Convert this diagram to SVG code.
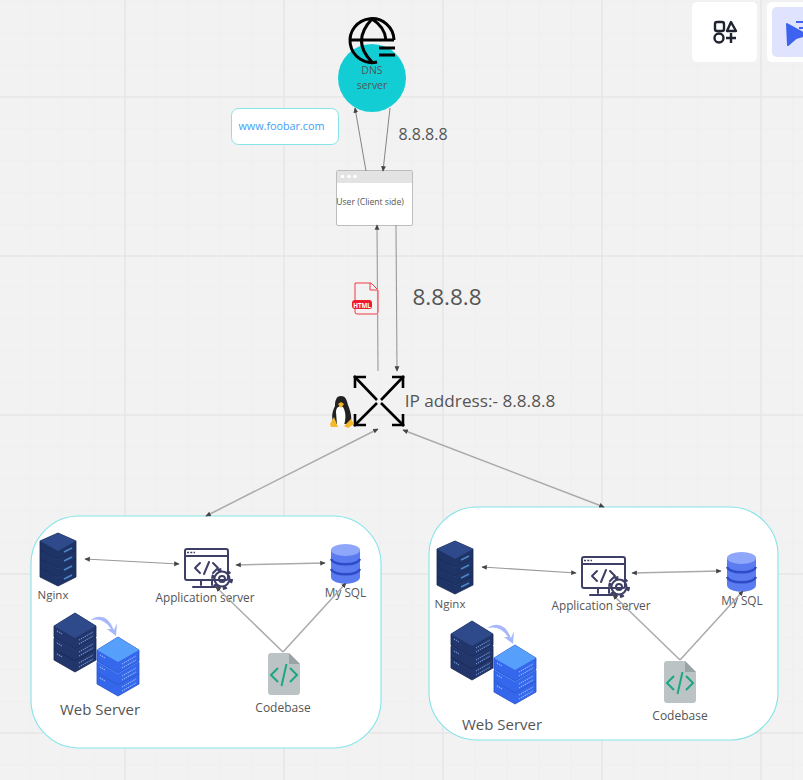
<svg xmlns="http://www.w3.org/2000/svg" width="803" height="780" viewBox="0 0 803 780">
<style>
text{font-family:"Open Sans","Liberation Sans",sans-serif;fill:#555;text-anchor:middle}
.minor{stroke:#efefef;stroke-width:1;fill:none}
.major{stroke:#e6e6e6;stroke-width:1.400;fill:none}
.box{fill:#fff;stroke:#86e4e8;stroke-width:1.100}
.c{stroke:#999;stroke-width:1.100;fill:none}
.cd{stroke:#777;stroke-width:.9;fill:none}
.c2{stroke:#aaa;stroke-width:1.500;fill:none}
.ic{fill:none;stroke:#3d3f66;stroke-width:2;stroke-linejoin:round;stroke-linecap:round}
.k{fill:none;stroke:#000;stroke-width:2.600}
</style>
<defs>
<marker id="a" viewBox="0 0 8 8" refX="7" refY="4" markerWidth="5.500" markerHeight="5.500" orient="auto-start-reverse" markerUnits="userSpaceOnUse"><path d="M0 0.500L8 4L0 7.500Z" fill="#444"/></marker>
<g id="srv">
<path d="M0 13L21 0L42 13V24L21 36L0 24Z" fill="#22366b" stroke="#17264e" stroke-width=".8"/>
<path d="M0 13L21 0L42 13L21 25Z" fill="#2f4a8a"/>
<path d="M3 18L8 21M25 27L39 19M25 31L39 23" stroke="#6d93d6" stroke-width="1.200" stroke-dasharray="1.200 1" fill="none"/>
</g>
<g id="blu">
<path d="M0 13L21 0L42 13V24L21 36L0 24Z" fill="#3567ec" stroke="#2a50c8" stroke-width=".8"/>
<path d="M0 13L21 0L42 13L21 25Z" fill="#56a0fc"/>
<path d="M3 18L8 21M25 27L39 19M25 31L39 23" stroke="#8fb7fb" stroke-width="1.200" stroke-dasharray="1.200 1" fill="none"/>
</g>
<g id="nl">
<path d="M0 8L18 0L36 8V17L18 26L0 17Z" fill="#1f3466" stroke="#17264e" stroke-width=".8"/>
<path d="M0 8L18 0L36 8L18 18Z" fill="#2f4a8a"/>
<path d="M24 19L32 15" stroke="#4f86c9" stroke-width="1.500"/>
</g>
<g id="nginx"><use href="#nl" y="27"/><use href="#nl" y="18"/><use href="#nl" y="9"/><use href="#nl"/></g>
<g id="appicon">
<rect x="1" y="1" width="43" height="31" rx="2" class="ic"/>
<path d="M1 8H44M17 32V37M28 32V37M9 39H36" class="ic"/>
<path d="M3 4.500H11" stroke="#3d3f66" stroke-width="1.500" stroke-dasharray="2 1.300"/>
<path d="M16 15L11 20L16 25M29 15L34 20L29 25M25 14L20 26" class="ic"/>
<circle cx="38" cy="31" r="9.500" fill="none" stroke="#3d3f66" stroke-width="3" stroke-dasharray="4 5.950"/>
<circle cx="38" cy="31" r="7.500" fill="#fff" class="ic"/>
<circle cx="38" cy="31" r="3" fill="#fff" class="ic"/>
</g>
<g id="db">
<path d="M0 8C0 0 29 0 29 8V34C29 43 0 43 0 34Z" fill="#5b7cf0"/>
<ellipse cx="14.500" cy="7" rx="14.500" ry="6" fill="#8ea7fb"/>
<path d="M0 16C3 23 26 23 29 16M0 26C3 33 26 33 29 26" stroke="#2e4bc8" stroke-width="2.500" fill="none"/>
</g>
<g id="code">
<path d="M3 0H21L32 11V39Q32 42 29 42H3Q0 42 0 39V3Q0 0 3 0Z" fill="#bcc3c4"/>
<path d="M21 0L32 11H21Z" fill="#98a3a6"/>
<path d="M10 15L3 22L10 29M22 15L29 22L22 29M18.500 11L13.500 33" stroke="#1ba783" stroke-width="2" fill="none"/>
</g>
<g id="web">
<use href="#srv" y="23"/><use href="#srv" y="12"/><use href="#srv"/>
<path d="M36 7Q52 -3 60 17L63 10L62 23L53 16L57 16Q50 4 36 7Z" fill="#a6b8fb"/>
<use href="#blu" x="43" y="47"/><use href="#blu" x="43" y="36"/><use href="#blu" x="43" y="24"/>
</g>
</defs>
<rect width="803" height="780" fill="#f2f2f2"/>
<g id="grid">
<path class="minor" d="M30 0V780M62 0V780M94 0V780M157 0V780M189 0V780M221 0V780M253 0V780M316 0V780M348 0V780M380 0V780M412 0V780M475 0V780M507 0V780M539 0V780M571 0V780M634 0V780M666 0V780M698 0V780M730 0V780M793 0V780"/>
<path class="minor" d="M0 2H803M0 34H803M0 66H803M0 129H803M0 161H803M0 193H803M0 225H803M0 288H803M0 320H803M0 352H803M0 384H803M0 447H803M0 479H803M0 511H803M0 543H803M0 606H803M0 638H803M0 670H803M0 702H803M0 765H803"/>
<path class="major" d="M125 0V780M284 0V780M443 0V780M602 0V780M761 0V780M0 97H803M0 256H803M0 415H803M0 574H803M0 733H803"/>
</g>
<g id="toolbar">
<rect x="692" y="2" width="65" height="60" rx="5" fill="#fff"/>
<rect x="767" y="2" width="40" height="60" rx="5" fill="#fff"/>
<rect x="772" y="7" width="36" height="50" rx="5" fill="#dfe3fd"/>
<rect x="715" y="22" width="9" height="9" rx="2" fill="none" stroke="#1f2330" stroke-width="2.400"/>
<path d="M731 22L736 31H727Z" fill="none" stroke="#1f2330" stroke-width="2.400" stroke-linejoin="round"/>
<circle cx="719" cy="38" r="4.500" fill="none" stroke="#1f2330" stroke-width="2.400"/>
<path d="M731 33V43M726 38H736" stroke="#1f2330" stroke-width="2.400"/>
<path d="M787 24L803 33V36L796 38L788 45Z" fill="#3d63f0" stroke="#3d63f0" stroke-width="2" stroke-linejoin="round"/>
<path d="M796 22H803M799 28H803" stroke="#3d63f0" stroke-width="2"/>
</g>
<g id="cluster-left-box"><rect class="box" x="31" y="516" width="350" height="232" rx="48"/></g>
<g id="cluster-right-box"><rect class="box" x="429" y="507" width="349" height="233" rx="48"/></g>
<g id="dns">
<circle cx="372" cy="78" r="34" fill="#12cdd4"/>
<path d="M394 40A22 22 0 1 0 377 62M350 40H394M372 19Q351 41 372 62M372 19Q385 27 386 40" fill="none" stroke="#000" stroke-width="3"/>
<path d="M379 48H395M379 55H395" stroke="#000" stroke-width="3"/>
<text x="372" y="74" font-size="10.500">DNS</text>
<text x="372" y="89" font-size="10.500">server</text>
</g>
<g id="foobar">
<rect x="231.500" y="108.500" width="107" height="36" rx="7" fill="#fff" stroke="#86e4e8"/>
<text x="281.500" y="130" font-size="10.800" style="fill:#3ea0f5">www.foobar.com</text>
</g>
<text id="dns-ip" x="423" y="140" font-size="16">8.8.8.8</text>
<g id="client">
<rect x="336.500" y="170.500" width="76" height="55" rx="1.500" fill="#fff" stroke="#bdbdbd"/>
<rect x="337" y="171" width="75" height="12" fill="#e3e3e3"/>
<circle cx="342.500" cy="176.500" r="1.800" fill="#fff"/><circle cx="349" cy="176.500" r="1.800" fill="#fff"/><circle cx="355" cy="176.500" r="1.800" fill="#fff"/>
<text x="370" y="205" font-size="8.600">User (Client side)</text>
</g>
<g id="html">
<path d="M355 283H371L378 290V312Q378 314 376 314H357Q355 314 355 312Z" fill="none" stroke="#f03a45" stroke-width="1"/>
<path d="M370 283V290H378" fill="none" stroke="#f03a45" stroke-width="1"/>
<rect x="352" y="300" width="20" height="9" rx="3" fill="#f01c2c"/>
<text x="362" y="307.500" font-size="6.200" font-weight="700" style="fill:#fff">HTML</text>
</g>
<text id="lb-ip" x="447" y="305" font-size="22.500">8.8.8.8</text>
<g id="lb">
<path class="k" d="M354 376L377 400M404 376L381 400M354 426L377 403M404 426L381 403"/>
<path class="k" d="M355 388V377H366M392 377H403V388M355 414V425H366M392 425H403V414"/>
<path d="M341 396C336 396 335 401 335 406C332 412 331 418 334 424H350C353 418 350 410 348 405C347 401 346 396 341 396Z" fill="#222"/>
<path d="M336 412C336 407 340 405 343 407C346 412 346 419 344 425H337Z" fill="#fff"/>
<path d="M338 404L341 402L344 404L341 408Z" fill="#f5b82a"/>
<path d="M330 424L334 417L338 427H331ZM344 426L351 419L354 424L348 428Z" fill="#f5b82a"/>
</g>
<text id="lb-label" x="480" y="407" font-size="17.200">IP address:- 8.8.8.8</text>
<g id="nginx-left"><use href="#nginx" x="40" y="533"/><text x="53" y="599" font-size="11.500">Nginx</text></g>
<g id="app-left"><use href="#appicon" x="184" y="548"/><text x="205" y="602" font-size="11.800">Application server</text></g>
<g id="db-left"><use href="#db" x="331" y="543"/><text x="345.500" y="597" font-size="11.800">My SQL</text></g>
<g id="web-left"><use href="#web" x="54" y="613"/><text x="100" y="715" font-size="15">Web Server</text></g>
<g id="code-left"><use href="#code" x="268" y="653"/><text x="283" y="712" font-size="12">Codebase</text></g>
<g id="nginx-right"><use href="#nginx" x="437" y="541"/><text x="450" y="608" font-size="11.500">Nginx</text></g>
<g id="app-right"><use href="#appicon" x="581" y="556"/><text x="601" y="610" font-size="11.800">Application server</text></g>
<g id="db-right"><use href="#db" x="727" y="551"/><text x="742" y="605" font-size="11.800">My SQL</text></g>
<g id="web-right"><use href="#web" x="451" y="621"/><text x="502" y="730" font-size="15">Web Server</text></g>
<g id="code-right"><use href="#code" x="664" y="661"/><text x="680" y="720" font-size="12">Codebase</text></g>
<g id="connectors">
<path class="cd" d="M366 171L355 108" marker-end="url(#a)"/>
<path class="cd" d="M390 108L383 171" marker-end="url(#a)"/>
<path class="c" d="M378 371L377 225" marker-end="url(#a)"/>
<path class="c" d="M396 225L397 371" marker-end="url(#a)"/>
<path class="c2" d="M378 429L206 516" marker-start="url(#a)" marker-end="url(#a)"/>
<path class="c2" d="M403 430L604 507" marker-start="url(#a)" marker-end="url(#a)"/>
<g id="left-connectors">
<path class="c" d="M85 559L179 564" marker-start="url(#a)" marker-end="url(#a)"/>
<path class="c2" d="M236 565L325 563" marker-start="url(#a)" marker-end="url(#a)"/>
<path class="c2" d="M283 652L216 587" marker-end="url(#a)"/>
<path class="c2" d="M283 652L346 583" marker-end="url(#a)"/>
</g>
<g id="right-connectors">
<path class="c" d="M482 567L576 573" marker-start="url(#a)" marker-end="url(#a)"/>
<path class="c2" d="M632 573L721 571" marker-start="url(#a)" marker-end="url(#a)"/>
<path class="c2" d="M680 660L613 595" marker-end="url(#a)"/>
<path class="c2" d="M680 660L743 591" marker-end="url(#a)"/>
</g>
</g>
</svg>
